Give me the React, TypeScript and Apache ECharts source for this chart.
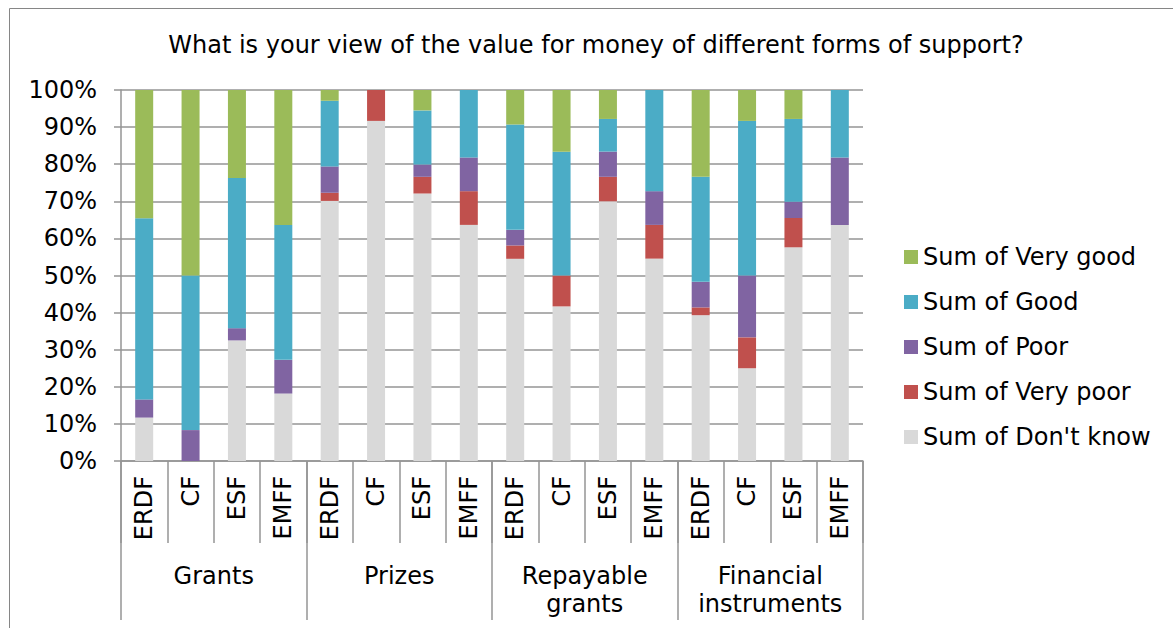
import React, { useEffect, useRef } from "react";
import * as echarts from "echarts";

const categories = [
  "ERDF", "CF", "ESF", "EMFF",
  "ERDF", "CF", "ESF", "EMFF",
  "ERDF", "CF", "ESF", "EMFF",
  "ERDF", "CF", "ESF", "EMFF",
];
const groups = ["Grants", "Prizes", "Repayable\ngrants", "Financial\ninstruments"];
const yTicks = { min: 0, max: 100, interval: 10 };

const dontKnow = [11.7, 0, 32.5, 18.18, 70.1, 91.67, 72.1, 63.64, 54.5, 41.67, 70.0, 54.55, 39.3, 25.0, 57.6, 63.64];
const veryPoor = [0, 0, 0, 0, 2.2, 8.33, 4.5, 9.09, 3.6, 8.33, 6.6, 9.09, 2.1, 8.33, 7.9, 0];
const poor = [4.9, 8.33, 3.3, 9.09, 7.1, 0, 3.3, 9.09, 4.2, 0, 6.8, 9.09, 6.9, 16.67, 4.4, 18.18];
const good = [48.8, 41.67, 40.5, 36.36, 17.7, 0, 14.6, 18.18, 28.4, 33.33, 8.8, 27.27, 28.3, 41.67, 22.3, 18.18];
const veryGood = [34.6, 50.0, 23.7, 36.36, 2.9, 0, 5.5, 0, 9.3, 16.67, 7.8, 0, 23.4, 8.33, 7.8, 0];

const seriesDefs = [
  { name: "Sum of Don't know", data: dontKnow, color: "#D9D9D9" },
  { name: "Sum of Very poor", data: veryPoor, color: "#C0504D" },
  { name: "Sum of Poor", data: poor, color: "#8064A2" },
  { name: "Sum of Good", data: good, color: "#4BACC6" },
  { name: "Sum of Very good", data: veryGood, color: "#9BBB59" },
];
const legendOrder = ["Sum of Very good", "Sum of Good", "Sum of Poor", "Sum of Very poor", "Sum of Don't know"];

const FONT = "DejaVu Sans";
const FS = 24;
const GRID_COLOR = "#959595";

export default function App() {
  const ref = useRef<HTMLDivElement>(null);
  useEffect(() => {
    document.body.style.margin = "0";
    const chart = echarts.init(ref.current!, undefined, { renderer: "svg" });
    chart.setOption({
      animation: false,
      textStyle: { fontFamily: FONT },
      title: {
        text: "What is your view of the value for money of different forms of support?",
        left: 596,
        textAlign: "center",
        top: 33,
        padding: 0,
        textStyle: { fontFamily: FONT, fontSize: FS, fontWeight: "normal", color: "#000" },
      },
      graphic: [
        {
          type: "rect",
          shape: { x: 9.5, y: 8.5, width: 1300, height: 800 },
          style: { fill: "none", stroke: "#868686", lineWidth: 1 },
          silent: true,
        },
      ],
      legend: {
        orient: "vertical",
        left: 904,
        top: 245,
        padding: 0,
        data: legendOrder,
        icon: "rect",
        itemWidth: 14,
        itemHeight: 14,
        itemGap: 21,
        textStyle: { fontFamily: FONT, fontSize: FS, color: "#000", lineHeight: 24 },
      },
      grid: { left: 121, right: 310, top: 90, bottom: 167, containLabel: false },
      xAxis: [
        {
          type: "category",
          data: categories,
          position: "bottom",
          axisLine: { lineStyle: { color: GRID_COLOR, width: 1.5 } },
          axisTick: { show: true, interval: 0, length: 82, lineStyle: { color: GRID_COLOR, width: 1.5 } },
          axisLabel: { interval: 0, rotate: 90, margin: 15, fontFamily: FONT, fontSize: FS, color: "#000" },
        },
        {
          type: "category",
          data: groups,
          position: "bottom",
          axisLine: { show: false },
          axisTick: { show: true, interval: 0, length: 159, lineStyle: { color: GRID_COLOR, width: 1.5 } },
          axisLabel: { interval: 0, margin: 101, fontFamily: FONT, fontSize: FS, color: "#000", lineHeight: 28 },
        },
      ],
      yAxis: {
        type: "value",
        min: yTicks.min,
        max: yTicks.max,
        interval: yTicks.interval,
        axisLine: { show: true, lineStyle: { color: GRID_COLOR, width: 1.5 } },
        axisTick: { show: true, length: 7, lineStyle: { color: GRID_COLOR, width: 1.5 } },
        splitLine: { lineStyle: { color: GRID_COLOR, width: 1.5 } },
        axisLabel: { formatter: "{value}%", margin: 24, fontFamily: FONT, fontSize: FS, color: "#000" },
      },
      series: seriesDefs.map((s) => ({
        name: s.name,
        type: "bar",
        stack: "total",
        xAxisIndex: 0,
        barWidth: 18,
        data: s.data,
        itemStyle: { color: s.color },
        emphasis: { disabled: true },
      })),
    });
    return () => chart.dispose();
  }, []);
  return <div ref={ref} style={{ width: 1173, height: 628 }} />;
}
